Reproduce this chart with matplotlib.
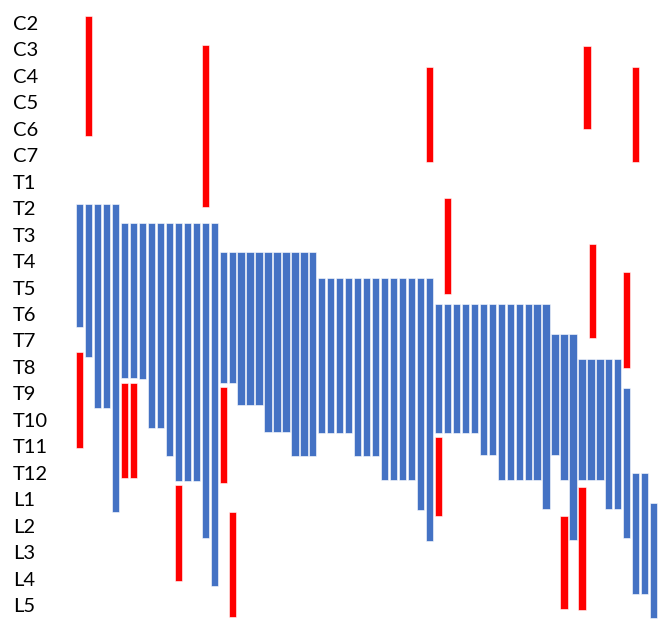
import numpy as np
import matplotlib
matplotlib.use('Agg')
from matplotlib import pyplot as plt

# vertebral levels, top to bottom
levels = ['C2', 'C3', 'C4', 'C5', 'C6', 'C7',
          'T1', 'T2', 'T3', 'T4', 'T5', 'T6', 'T7', 'T8', 'T9', 'T10', 'T11', 'T12',
          'L1', 'L2', 'L3', 'L4', 'L5']

# blue spans, one per column (in level units, 0 = C2)
blue_top = [6.83] * 5 + [7.56] * 11 + [8.65] * 11 + [9.65] * 13 + [10.62] * 13 \
    + [11.76] * 3 + [12.71] * 5 + [13.8] + [17.01] * 2 + [18.15]
blue_bottom = [11.51, 12.64, 14.54, 14.54, 18.5,
               13.42, 13.42, 13.44, 15.3, 15.3, 16.38,
               17.3, 17.3, 17.3, 19.45, 21.3,
               13.6, 13.6, 14.45, 14.45, 14.45, 15.45, 15.45, 15.45,
               16.36, 16.36, 16.36,
               15.5, 15.5, 15.5, 15.5, 16.36, 16.36, 16.36,
               17.29, 17.29, 17.29, 17.29, 18.42, 19.58,
               15.49, 15.49, 15.49, 15.49, 15.49, 16.33, 16.33,
               17.29, 17.29, 17.29, 17.29, 17.29, 18.37,
               16.33, 17.29, 19.56,
               17.29, 17.29, 17.29, 18.37, 18.37,
               19.47, 21.6, 21.6, 22.5]

# red spans (column number, top, bottom)
red_col = [1, 2, 6, 7, 12, 15, 17, 18, 40, 41, 42, 55, 57, 57.55, 58.2, 62, 63]
red_top = [12.45, -0.27, 13.6, 13.6, 17.45, 0.85, 13.75, 18.5, 1.65, 15.65,
           6.63, 18.63, 17.54, 0.86, 8.34, 9.43, 1.65]
red_bottom = [16.06, 4.26, 17.2, 17.2, 21.1, 6.97, 17.38, 22.45, 5.24, 18.63,
              10.23, 22.17, 22.19, 4.01, 11.92, 13.03, 5.24]

cols = np.arange(1, len(blue_top) + 1)
bt = np.array(blue_top)
bb = np.array(blue_bottom)
rt = np.array(red_top)
rb = np.array(red_bottom)

plt.rcParams['font.family'] = ['Lato', 'DejaVu Sans']

fig = plt.figure(figsize=(6.59, 6.19), dpi=100)
ax = fig.add_axes([70 / 659, 0, 589 / 659, 1])

ax.bar(cols, bb - bt, bottom=bt, width=0.81, color='#4472C4',
       edgecolor='white', linewidth=0.4)
ax.bar(red_col, rb - rt, bottom=rt, width=0.81, color='#FF0000',
       edgecolor='white', linewidth=0.4)

ax.set_xlim(-0.076, 65.59)
ax.set_ylim(22.53, -0.87)

ax.set_yticks(range(len(levels)))
ax.set_yticklabels(levels, fontsize=14.5)
for lab in ax.get_yticklabels():
    lab.set_horizontalalignment('left')
ax.tick_params(axis='y', length=0, pad=41)
ax.set_xticks([])
for s in ax.spines.values():
    s.set_visible(False)

fig.savefig('out.png', dpi=100)
